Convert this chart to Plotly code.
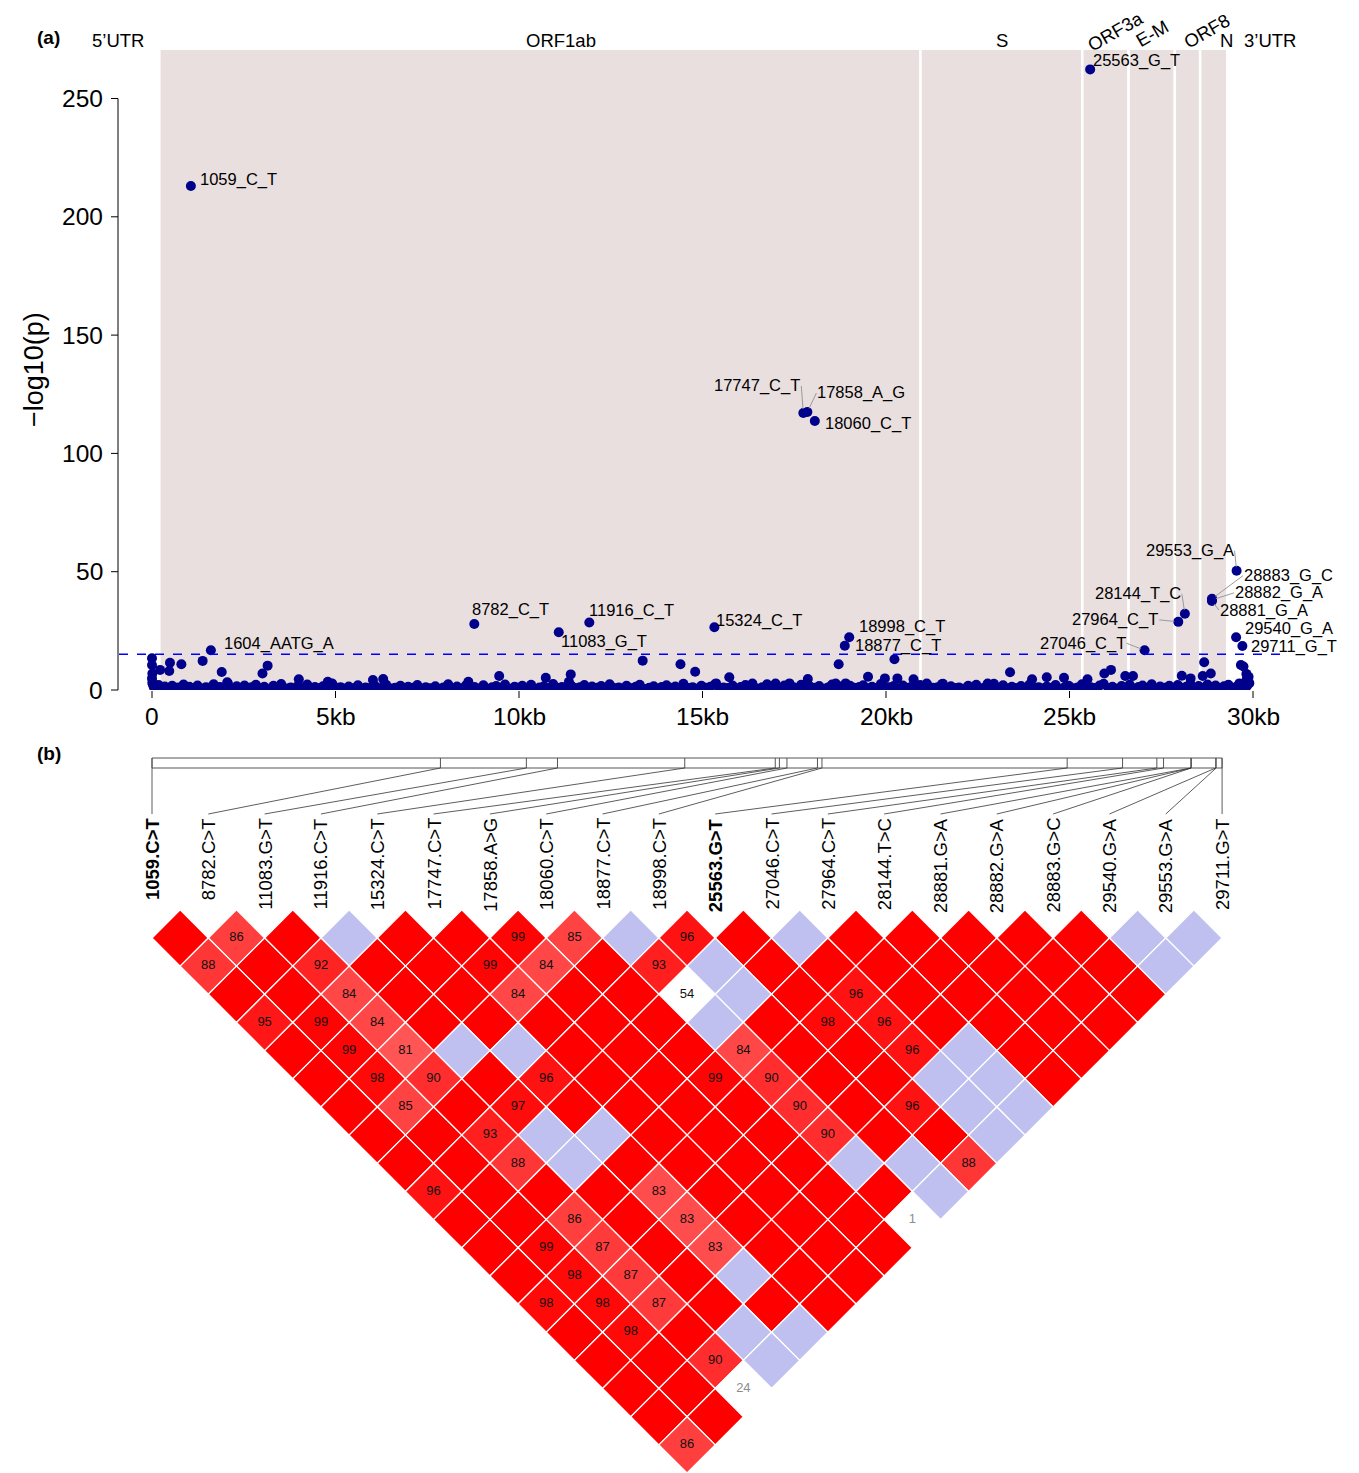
import plotly.graph_objects as go

W, H = 1359, 1473
FONT = "Liberation Sans, Arial, Helvetica, sans-serif"

# ======================= Panel (a) data =======================
gene_names = ["5\u2019UTR", "ORF1ab", "S", "ORF3a", "E-M", "ORF8", "N", "3\u2019UTR"]
region_bounds_kb = [0.20, 20.94, 25.35, 26.61, 27.87, 28.56, 29.30]

top_snps = ["1059_C_T", "1604_AATG_A", "8782_C_T", "11083_G_T", "11916_C_T", "15324_C_T",
            "17747_C_T", "17858_A_G", "18060_C_T", "18877_C_T", "18998_C_T", "25563_G_T",
            "27046_C_T", "27964_C_T", "28144_T_C", "28881_G_A", "28882_G_A", "28883_G_C",
            "29540_G_A", "29553_G_A", "29711_G_T"]
top_pos = [1059, 1604, 8782, 11083, 11916, 15324, 17747, 17858, 18060, 18877, 18998, 25563,
           27046, 27964, 28144, 28881, 28882, 28883, 29540, 29553, 29711]
top_logp = [213.0, 16.8, 27.9, 24.4, 28.5, 26.5, 117.1, 117.5, 113.7, 18.7, 22.3, 262.3,
            16.8, 28.8, 32.2, 37.6, 38.1, 38.6, 22.3, 50.4, 18.6]

mid_kb = [0.00, 0.00, 0.01, 0.00, 0.01, 0.22, 0.49, 0.47, 0.80, 1.38,
          1.90, 3.01, 3.15, 4.00, 4.79, 6.02, 6.30, 8.62, 9.46, 10.73,
          11.41, 11.36, 13.37, 14.40, 14.80, 15.37, 15.73, 16.36, 16.99, 17.37,
          17.87, 18.63, 18.71, 18.90, 19.51, 19.97, 20.23, 20.31, 20.75, 21.11,
          21.55, 22.77, 22.94, 23.38, 23.98, 24.38, 24.85, 25.49, 25.95, 26.13,
          26.52, 26.73, 28.06, 28.30, 28.67, 28.63, 28.85, 29.67, 29.74, 29.82,
          29.83, 29.88, 29.86, 0.02, 2.05]
mid_logp = [13.4, 10.6, 7.0, 4.9, 3.2, 8.5, 11.5, 8.0, 10.9, 12.3,
            7.6, 7.0, 10.3, 4.5, 3.5, 4.2, 4.6, 3.5, 5.9, 5.2,
            6.6, 3.5, 12.4, 10.9, 7.7, 2.8, 5.4, 2.7, 2.7, 2.8,
            4.6, 2.7, 10.9, 2.8, 5.6, 4.9, 13.0, 4.9, 4.5, 2.7,
            2.6, 2.7, 2.6, 7.5, 4.5, 5.4, 5.2, 4.5, 7.0, 8.5,
            5.9, 5.9, 6.0, 4.9, 11.7, 5.9, 7.0, 10.6, 9.9, 6.8,
            4.5, 5.6, 3.4, 2.4, 3.3]

base_kb = [0.05, 0.12, 0.18, 0.27, 0.35, 0.41, 0.55, 0.63, 0.72, 0.86,
           0.94, 1.02, 1.15, 1.24, 1.33, 1.47, 1.56, 1.68, 1.77, 1.85,
           1.98, 2.07, 2.19, 2.31, 2.38, 2.52, 2.64, 2.71, 2.83, 2.95,
           3.06, 3.22, 3.31, 3.44, 3.52, 3.67, 3.78, 3.86, 3.97, 4.11,
           4.23, 4.35, 4.44, 4.58, 4.66, 4.79, 4.91, 5.03, 5.14, 5.27,
           5.36, 5.48, 5.61, 5.73, 5.82, 5.95, 6.08, 6.17, 6.29, 6.38,
           6.52, 6.63, 6.77, 6.86, 6.98, 7.11, 7.23, 7.37, 7.46, 7.58,
           7.72, 7.81, 7.94, 8.07, 8.18, 8.31, 8.42, 8.55, 8.68, 8.79,
           8.92, 9.03, 9.16, 9.27, 9.38, 9.51, 9.62, 9.75, 9.88, 9.97,
           10.09, 10.22, 10.33, 10.47, 10.56, 10.68, 10.81, 10.93, 11.04, 11.17,
           11.28, 11.42, 11.53, 11.66, 11.78, 11.87, 11.99, 12.13, 12.24, 12.36,
           12.47, 12.59, 12.72, 12.84, 12.93, 13.06, 13.18, 13.29, 13.41, 13.55,
           13.67, 13.76, 13.89, 14.02, 14.13, 14.26, 14.37, 14.48, 14.61, 14.73,
           14.86, 14.97, 15.08, 15.21, 15.33, 15.46, 15.57, 15.69, 15.82, 15.93,
           16.04, 16.17, 16.29, 16.38, 16.51, 16.63, 16.76, 16.87, 16.98, 17.11,
           17.23, 17.36, 17.48, 17.57, 17.69, 17.83, 17.94, 18.06, 18.18, 18.31,
           18.42, 18.53, 18.66, 18.78, 18.91, 19.02, 19.13, 19.27, 19.38, 19.49,
           19.62, 19.74, 19.86, 19.97, 20.08, 20.21, 20.33, 20.46, 20.57, 20.68,
           20.81, 20.93, 21.04, 21.16, 21.28, 21.41, 21.52, 21.63, 21.77, 21.88,
           21.99, 22.12, 22.24, 22.37, 22.46, 22.58, 22.71, 22.83, 22.94, 23.07,
           23.19, 23.32, 23.43, 23.54, 23.68, 23.79, 23.91, 24.03, 24.16, 24.27,
           24.38, 24.51, 24.62, 24.74, 24.87, 24.98, 25.09, 25.22, 25.34, 25.47,
           25.58, 25.69, 25.82, 25.93, 26.06, 26.17, 26.29, 26.42, 26.53, 26.64,
           26.77, 26.88, 26.99, 27.12, 27.24, 27.36, 27.47, 27.59, 27.72, 27.83,
           27.95, 28.06, 28.18, 28.29, 28.41, 28.52, 28.64, 28.76, 28.87, 28.98,
           29.10, 29.21, 29.33, 29.44, 29.55, 29.63, 29.71, 29.78, 29.84, 29.90]
base_logp = [1.2, 0.6, 2.1, 0.9, 1.5, 0.4, 1.8, 0.7, 1.1, 2.3,
             0.5, 1.4, 0.8, 1.9, 0.3, 1.2, 0.9, 2.4, 0.6, 1.3,
             1.0, 2.6, 0.4, 1.6, 0.8, 1.9, 0.5, 1.2, 2.2, 0.7,
             1.4, 0.3, 1.8, 0.9, 2.5, 0.6, 1.1, 0.4, 1.7, 0.9,
             2.3, 0.5, 1.3, 0.8, 1.6, 0.3, 2.7, 0.9, 1.2, 0.5,
             1.5, 0.7, 2.0, 0.4, 1.1, 0.8, 1.7, 0.3, 1.3, 2.2,
             0.6, 1.0, 1.8, 0.5, 1.4, 0.9, 2.1, 0.4, 1.2, 0.7,
             1.6, 0.3, 1.1, 2.4, 0.8, 1.5, 0.5, 1.9, 0.9, 1.3,
             0.6, 2.0, 0.4, 1.2, 1.7, 0.8, 2.3, 0.5, 1.4, 0.9,
             1.8, 0.6, 2.2, 0.4, 1.1, 1.6, 0.7, 2.5, 0.9, 1.3,
             0.5, 1.9, 0.8, 1.2, 2.1, 0.4, 1.5, 0.9, 1.7, 0.6,
             2.4, 0.8, 1.1, 0.5, 1.8, 0.7, 1.4, 2.2, 0.4, 1.0,
             1.6, 0.6, 1.3, 2.0, 0.9, 1.5, 0.4, 2.6, 0.8, 1.2,
             0.5, 1.8, 0.9, 1.4, 2.3, 0.6, 1.1, 0.8, 1.9, 0.4,
             1.3, 2.1, 0.7, 1.6, 0.5, 1.2, 2.4, 0.9, 1.5, 0.6,
             1.9, 0.4, 1.2, 0.8, 2.2, 0.6, 1.4, 0.9, 1.7, 0.5,
             1.1, 2.3, 0.7, 1.5, 0.4, 1.8, 0.9, 1.3, 2.0, 0.6,
             1.4, 0.8, 2.5, 0.5, 1.2, 1.7, 0.6, 1.9, 0.9, 1.3,
             0.7, 2.1, 0.4, 1.5, 0.9, 1.2, 2.4, 0.6, 1.6, 0.8,
             1.1, 0.5, 1.8, 0.9, 2.2, 0.7, 1.3, 0.4, 1.6, 0.9,
             2.0, 0.6, 1.4, 0.8, 1.7, 0.5, 2.3, 0.9, 1.2, 0.6,
             1.5, 0.9, 2.1, 0.5, 1.3, 1.8, 0.7, 1.1, 2.4, 0.6,
             1.2, 0.8, 1.9, 2.6, 0.7, 1.4, 0.5, 1.7, 0.9, 2.2,
             0.6, 1.3, 1.9, 0.8, 2.4, 0.5, 1.5, 0.9, 1.8, 0.7,
             2.1, 0.9, 1.4, 2.6, 0.6, 1.7, 0.8, 2.3, 1.1, 1.9,
             0.7, 1.6, 2.2, 0.9, 1.4, 2.8, 1.2, 2.5, 1.8, 2.9]

threshold_logp = 15.1
y_ticks = [0, 50, 100, 150, 200, 250]
x_ticks_kb = [0, 5, 10, 15, 20, 25, 30]
x_tick_text = ["0", "5kb", "10kb", "15kb", "20kb", "25kb", "30kb"]

# ======================= Panel (b) data =======================
ld_snps = ["1059.C>T", "8782.C>T", "11083.G>T", "11916.C>T", "15324.C>T", "17747.C>T",
           "17858.A>G", "18060.C>T", "18877.C>T", "18998.C>T", "25563.G>T", "27046.C>T",
           "27964.C>T", "28144.T>C", "28881.G>A", "28882.G>A", "28883.G>C", "29540.G>A",
           "29553.G>A", "29711.G>T"]
ld_pos = [1059, 8782, 11083, 11916, 15324, 17747, 17858, 18060, 18877, 18998, 25563,
          27046, 27964, 28144, 28881, 28882, 28883, 29540, 29553, 29711]
ld_bold = ["1059.C>T", "25563.G>T"]
# row r holds pairs (i, i+r+1); R = D'=1 strong, L = D'=1 weak LOD, Wnn = white (nn shown), nn = D' x100
ld_rows = [
    "R 86 R L R R 99 85 L 96 R L R R R R R L L",
    "88 R 92 R R 99 84 R 93 L R R R R R R R L",
    "R R 84 R R 84 R R W54 L R 96 R R R R R",
    "95 99 84 R R R R R L R 98 96 R R R R",
    "R 99 81 L L R R R 84 R R 96 L R R",
    "R 98 90 R 96 R R 99 90 R R L L R",
    "R 85 R 97 R R R R 90 R 96 L L",
    "R R 93 L L R R R 90 R R L",
    "R R 88 L R R R R L L 88",
    "96 R R R 83 R R R R L",
    "R R 86 R 83 R R R W1",
    "R 99 87 R 83 R R R",
    "R 98 87 R L R R",
    "98 98 87 R R R",
    "R 98 R L L",
    "R R 90 L",
    "R R W24",
    "R R",
    "86",
]

# ======================= layout helpers =======================
def fx(p):
    return p / W

def fy(p):
    return 1 - p / H

# panel (a) frame (pixels)
A_X0PX, A_PXPERKB = 152.0, 36.7
A_Y0PX, A_PXPERUNIT = 690.0, 2.366
A_L, A_R, A_T, A_B = 119.0, 1283.0, 50.0, 690.0

def kb2px(k):
    return A_X0PX + k * A_PXPERKB

def v2py(v):
    return A_Y0PX - v * A_PXPERUNIT

xr_a = [(A_L - A_X0PX) / A_PXPERKB, (A_R - A_X0PX) / A_PXPERKB]
yr_a = [(A_Y0PX - A_B) / A_PXPERUNIT, (A_Y0PX - A_T) / A_PXPERUNIT]

# panel (b) frame
B_X0, B_STEP, B_Y0 = 152.0, 56.32, 909.84
B_TOP = 735.0

def pyb(p):
    return (p - B_Y0) / B_STEP

xr_b = [(0 - B_X0) / B_STEP, (W - B_X0) / B_STEP]
yr_b = [(H - B_Y0) / B_STEP, (B_TOP - B_Y0) / B_STEP]

NAVY = "#00008B"
shapes = []
annotations = []

# ---------------- panel (a) ----------------
for k in range(len(region_bounds_kb) - 1):
    shapes.append(dict(type="rect", xref="x", yref="y", x0=region_bounds_kb[k], x1=region_bounds_kb[k + 1],
                       y0=-5, y1=yr_a[1] + 5, fillcolor="#E9DFDF", line=dict(color="white", width=2.5),
                       layer="below"))

shapes.append(dict(type="line", xref="x", yref="y", x0=xr_a[0], x1=xr_a[1], y0=threshold_logp, y1=threshold_logp,
                   line=dict(color="#0000FF", width=1.6, dash="dash"), layer="above"))

# y axis (R style)
shapes.append(dict(type="line", xref="paper", yref="paper", x0=fx(118), x1=fx(118),
                   y0=fy(v2py(0)), y1=fy(v2py(250)), line=dict(color="black", width=1)))
for t in y_ticks:
    shapes.append(dict(type="line", xref="paper", yref="paper", x0=fx(111), x1=fx(118),
                       y0=fy(v2py(t)), y1=fy(v2py(t)), line=dict(color="black", width=1)))
    annotations.append(dict(x=fx(105), y=fy(v2py(t)), xref="paper", yref="paper", text=str(t),
                            showarrow=False, xanchor="right", yanchor="middle",
                            font=dict(family=FONT, size=24.5, color="black")))
# x axis ticks
for t, lab in zip(x_ticks_kb, x_tick_text):
    shapes.append(dict(type="line", xref="paper", yref="paper", x0=fx(kb2px(t)), x1=fx(kb2px(t)),
                       y0=fy(691), y1=fy(698), line=dict(color="black", width=1)))
    annotations.append(dict(x=fx(kb2px(t)), y=fy(716), xref="paper", yref="paper", text=lab,
                            showarrow=False, xanchor="center", yanchor="middle",
                            font=dict(family=FONT, size=24.5, color="black")))

annotations.append(dict(x=fx(34), y=fy(370), xref="paper", yref="paper", text="\u2212log10(p)",
                        showarrow=False, textangle=-90, xanchor="center", yanchor="middle",
                        font=dict(family=FONT, size=27, color="black")))

# gene labels (pixel positions, angle)
gene_label_style = {
    "5\u2019UTR": (118, 41, 0), "ORF1ab": (561, 41, 0), "S": (1002, 41, 0),
    "ORF3a": (1115, 31, -30), "E-M": (1152, 33, -30), "ORF8": (1206, 31, -30),
    "N": (1226, 41, 0), "3\u2019UTR": (1270, 41, 0),
}
for g in gene_names:
    gx, gy, ang = gene_label_style[g]
    annotations.append(dict(x=fx(gx), y=fy(gy), xref="paper", yref="paper", text=g, showarrow=False,
                            textangle=ang, xanchor="center", yanchor="middle",
                            font=dict(family=FONT, size=18.5, color="black")))

annotations.append(dict(x=fx(35), y=fy(25), xref="paper", yref="paper", text="<b>(a)</b>", showarrow=False,
                        font=dict(family=FONT, size=19, color="black")))
annotations.append(dict(x=fx(35), y=fy(753), xref="paper", yref="paper", text="<b>(b)</b>", showarrow=False,
                        font=dict(family=FONT, size=19, color="black")))

# point labels: (dx px, dy px, anchor, leader line)
label_style = {
    "1059_C_T": (8, -7, "left", False), "1604_AATG_A": (12, -7, "left", False),
    "8782_C_T": (-3, -14, "left", False), "11083_G_T": (1, 9, "left", False),
    "11916_C_T": (-1, -12, "left", False), "15324_C_T": (1, -7, "left", False),
    "17747_C_T": (-2, -27, "right", True), "17858_A_G": (9, -19, "left", True),
    "18060_C_T": (9, 3, "left", False), "18877_C_T": (9, 0, "left", False),
    "18998_C_T": (9, -11, "left", False), "25563_G_T": (2, -9, "left", False),
    "27046_C_T": (-18, -7, "right", True), "27964_C_T": (-19, -2, "right", True),
    "28144_T_C": (-3, -20, "right", True), "28881_G_A": (7, 9, "left", True),
    "28882_G_A": (22, -7, "left", True), "28883_G_C": (31, -23, "left", True),
    "29540_G_A": (8, -9, "left", False), "29553_G_A": (-2, -20, "right", True),
    "29711_G_T": (8, 1, "left", False),
}
for name, pos, lp in zip(top_snps, top_pos, top_logp):
    dx, dy, anc, leader = label_style[name]
    common = dict(x=pos / 1000.0, y=lp, xref="x", yref="y", text=name, xanchor=anc, yanchor="middle",
                  borderpad=0, font=dict(family=FONT, size=16.5, color="black"))
    if leader:
        annotations.append(dict(common, showarrow=True, ax=dx, ay=dy, arrowhead=0, arrowwidth=1,
                                arrowcolor="#9A9A9A", standoff=4))
    else:
        annotations.append(dict(common, showarrow=False, xshift=dx, yshift=-dy))

marker = dict(color=NAVY, size=10, line=dict(width=0))
traces = [
    go.Scatter(x=base_kb, y=base_logp, mode="markers", marker=marker, xaxis="x", yaxis="y",
               hoverinfo="skip"),
    go.Scatter(x=mid_kb, y=mid_logp, mode="markers", marker=marker, xaxis="x", yaxis="y", hoverinfo="skip"),
    go.Scatter(x=[p / 1000.0 for p in top_pos], y=top_logp, mode="markers", marker=marker, xaxis="x",
               yaxis="y", text=top_snps, hoverinfo="text"),
]

# ---------------- panel (b) ----------------
n = len(ld_snps)
bar_top, bar_bot = pyb(758), pyb(768)
conn_end, lab_top = pyb(814), pyb(817)
shapes.append(dict(type="rect", xref="x2", yref="y2", x0=0, x1=n - 1, y0=bar_top, y1=bar_bot,
                   line=dict(color="#555555", width=1), fillcolor="rgba(0,0,0,0)"))
span = ld_pos[-1] - ld_pos[0]
for i, (name, pos) in enumerate(zip(ld_snps, ld_pos)):
    tx = (n - 1) * (pos - ld_pos[0]) / span
    shapes.append(dict(type="line", xref="x2", yref="y2", x0=tx, x1=tx, y0=bar_top, y1=bar_bot,
                       line=dict(color="#555555", width=1)))
    shapes.append(dict(type="line", xref="x2", yref="y2", x0=tx, x1=i, y0=bar_bot, y1=conn_end,
                       line=dict(color="#333333", width=0.8)))
    txt = name.replace(">", "&gt;")
    if name in ld_bold:
        txt = "<b>" + txt + "</b>"
    annotations.append(dict(x=i, y=lab_top, xref="x2", yref="y2", text=txt, showarrow=False, textangle=-90,
                            xanchor="center", yanchor="top", borderpad=0,
                            font=dict(family=FONT, size=18.5, color="black")))

def cell_color(tok):
    if tok == "R":
        return "#FF0000"
    if tok == "L":
        return "#C0C0F0"
    if tok.startswith("W"):
        return "#FFFFFF"
    d = int(tok) / 100.0
    g = int(round((255 - 32) * 2 * (1 - d)))
    return "rgb(255,%d,%d)" % (g, g)

grey_text_tokens = ["W1", "W24"]
tx_dark, ty_dark, tt_dark = [], [], []
tx_grey, ty_grey, tt_grey = [], [], []
for r, row in enumerate(ld_rows):
    for i, tok in enumerate(row.split()):
        j = i + r + 1
        cx, cy = (i + j) / 2.0, (j - i) / 2.0
        path = "M %f,%f L %f,%f L %f,%f L %f,%f Z" % (cx - 0.5, cy, cx, cy - 0.5, cx + 0.5, cy, cx, cy + 0.5)
        shapes.append(dict(type="path", xref="x2", yref="y2", path=path, fillcolor=cell_color(tok),
                           line=dict(color="white", width=1.3), layer="below"))
        if tok not in ("R", "L"):
            val = tok[1:] if tok.startswith("W") else tok
            if tok in grey_text_tokens:
                tx_grey.append(cx); ty_grey.append(cy); tt_grey.append(val)
            else:
                tx_dark.append(cx); ty_dark.append(cy); tt_dark.append(val)

traces.append(go.Scatter(x=tx_dark, y=ty_dark, text=tt_dark, mode="text", xaxis="x2", yaxis="y2",
                         textfont=dict(family=FONT, size=13, color="#111111"), hoverinfo="skip"))
traces.append(go.Scatter(x=tx_grey, y=ty_grey, text=tt_grey, mode="text", xaxis="x2", yaxis="y2",
                         textfont=dict(family=FONT, size=13, color="#8C8C8C"), hoverinfo="skip"))

fig = go.Figure(data=traces)
fig.update_layout(
    width=W, height=H, margin=dict(l=0, r=0, t=0, b=0), autosize=False,
    paper_bgcolor="white", plot_bgcolor="white", showlegend=False,
    font=dict(family=FONT),
    xaxis=dict(domain=[fx(A_L), fx(A_R)], range=xr_a, visible=False, fixedrange=True),
    yaxis=dict(domain=[fy(A_B), fy(A_T)], range=yr_a, visible=False, fixedrange=True),
    xaxis2=dict(domain=[0, 1], range=xr_b, visible=False, anchor="y2", fixedrange=True),
    yaxis2=dict(domain=[0, fy(B_TOP)], range=yr_b, visible=False, anchor="x2", fixedrange=True),
    shapes=shapes, annotations=annotations,
)
fig.write_html("out.html", config={"displayModeBar": False},
               post_script="document.body.style.margin='0';document.body.style.overflow='hidden';")
